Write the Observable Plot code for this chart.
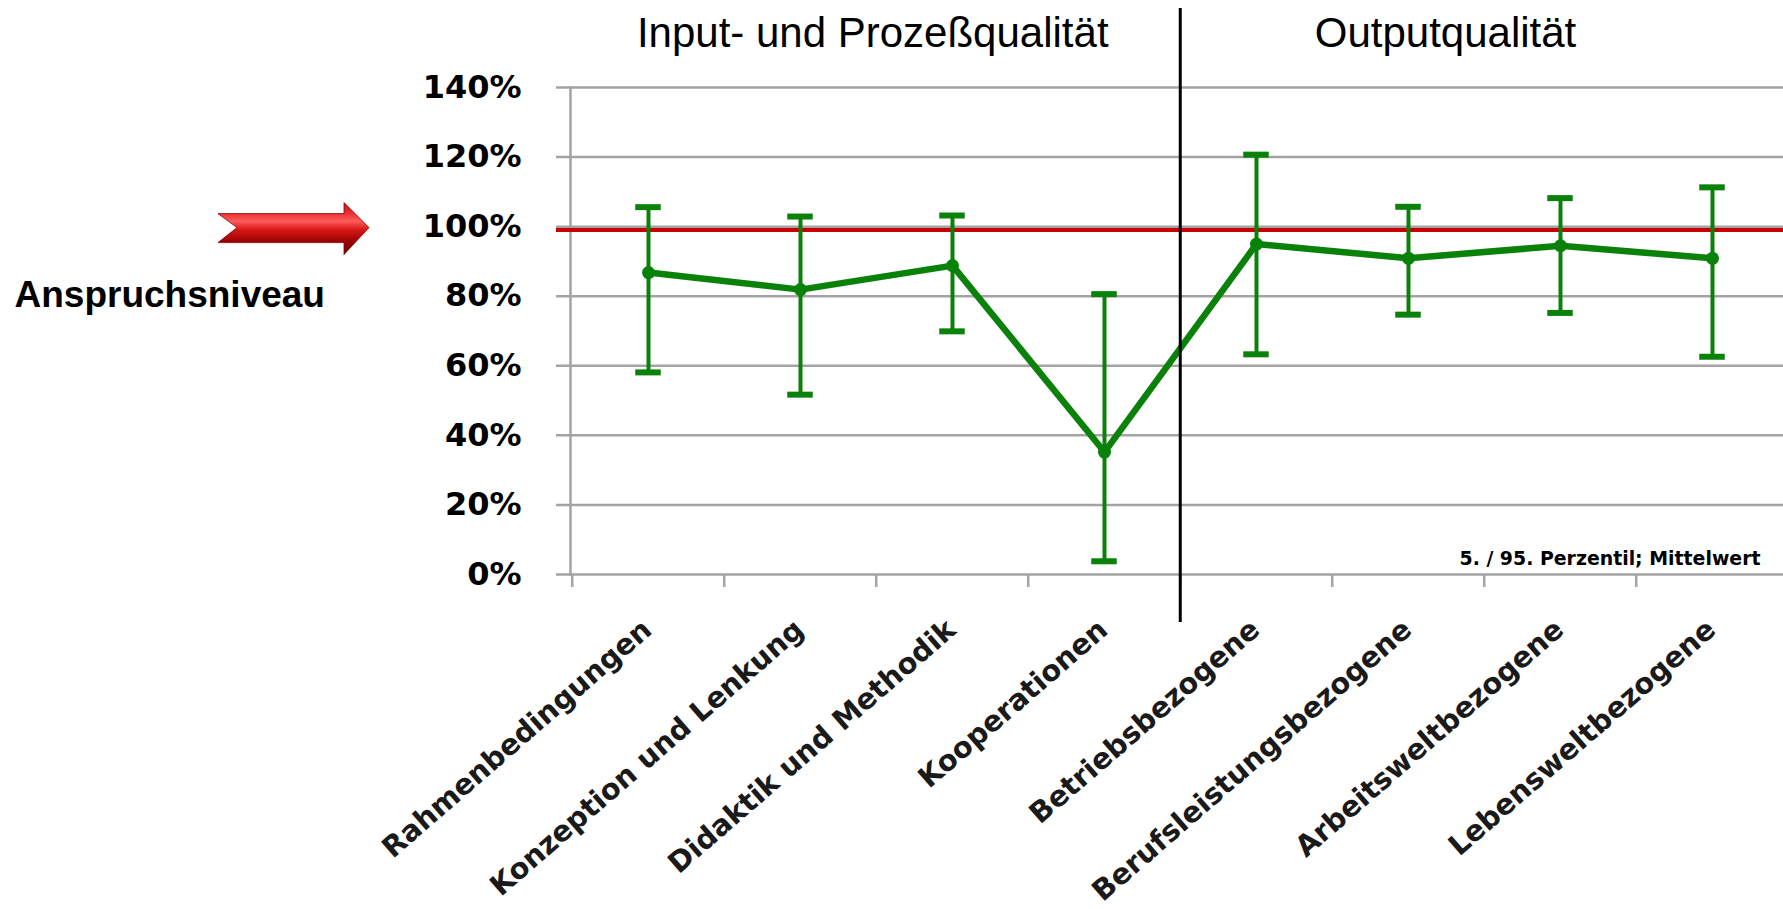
<!DOCTYPE html>
<html><head><meta charset="utf-8">
<script src="https://cdn.jsdelivr.net/npm/d3@7"></script>
<script src="https://cdn.jsdelivr.net/npm/@observablehq/plot@0.6"></script>
<style>
  html, body { margin: 0; padding: 0; background: #fff; }
  #chart svg { display: block; }
</style>
</head>
<body>
<div id="chart"></div>
<script>
// ---- data ----
const categories = [
  "Rahmenbedingungen", "Konzeption und Lenkung", "Didaktik und Methodik", "Kooperationen",
  "Betriebsbezogene", "Berufsleistungsbezogene", "Arbeitsweltbezogene", "Lebensweltbezogene"
];
const mittelwert  = [0.868, 0.819, 0.888, 0.352, 0.950, 0.909, 0.945, 0.909];
const perzentil5  = [0.581, 0.517, 0.699, 0.038, 0.633, 0.747, 0.752, 0.626];
const perzentil95 = [1.056, 1.029, 1.032, 0.806, 1.207, 1.057, 1.082, 1.113];
const yTicks = [0, 0.2, 0.4, 0.6, 0.8, 1.0, 1.2, 1.4];
const anspruchsniveau = 0.99;
const sections = ["Input- und Prozeßqualität", "Outputqualität"];
const levelLabel = "Anspruchsniveau";
const noteLabel = "5. / 95. Perzentil; Mittelwert";

const data = categories.map((c, i) => ({cat: c, mean: mittelwert[i], low: perzentil5[i], high: perzentil95[i]}));

// ---- layout / style ----
const W = 1783, H = 909;
const mL = 570, mT = 87, mB = 335;
const xRange = [570, 1790];
const bw = (xRange[1] - xRange[0]) / categories.length;
const green = "#0a820a", red = "#c80000", grid = "#a3a3a3";
const capHalf = 13;

const plot = Plot.plot({
  width: W, height: H,
  marginLeft: mL, marginRight: 0, marginTop: mT, marginBottom: mB,
  style: {fontFamily: "DejaVu Sans, sans-serif", background: "#fff"},
  x: {type: "band", domain: categories, range: xRange, padding: 0, label: null},
  y: {domain: [0, 1.4], label: null},
  marks: [
    // gridlines (with outward tick stubs)
    Plot.ruleY(yTicks, {stroke: grid, strokeWidth: 2.5, insetLeft: -14}),
    // y-axis line
    Plot.frame({anchor: "left", stroke: grid, strokeWidth: 2.5}),
    // x ticks at category boundaries
    Plot.axisX({ticks: categories, tickSize: 13, tickFormat: () => "", label: null, dx: -bw / 2, stroke: grid, strokeWidth: 2.5}),
    // y tick labels
    Plot.axisY({ticks: yTicks, tickSize: 0, tickPadding: 49, tickFormat: d3.format(".0%"), label: null,
      fontSize: 32, fontWeight: "bold", fontFamily: "DejaVu Sans", fill: "#000"}),
    // x tick labels
    Plot.axisX({ticks: categories, tickSize: 0, tickRotate: -41, tickPadding: 51, dx: -1, label: null,
      fontSize: 28.8, fontWeight: "bold", fontFamily: "DejaVu Sans", fill: "#1a1a1a"}),
    // reference level
    Plot.ruleY([anspruchsniveau], {stroke: red, strokeWidth: 4, insetLeft: -14}),
    // error bars
    Plot.ruleX(data, {x: "cat", y1: "low", y2: "high", stroke: green, strokeWidth: 4}),
    Plot.tickY(data, {x: "cat", y: "low", stroke: green, strokeWidth: 6, insetLeft: bw / 2 - capHalf, insetRight: bw / 2 - capHalf}),
    Plot.tickY(data, {x: "cat", y: "high", stroke: green, strokeWidth: 6, insetLeft: bw / 2 - capHalf, insetRight: bw / 2 - capHalf}),
    // mean line + dots
    Plot.lineY(data, {x: "cat", y: "mean", stroke: green, strokeWidth: 6.5, strokeLinejoin: "round"}),
    Plot.dot(data, {x: "cat", y: "mean", r: 6.5, fill: green}),
    // section separator
    Plot.ruleX([categories[4]], {dx: -bw / 2, stroke: "#000", strokeWidth: 3, insetTop: -79, insetBottom: -48}),
    // section titles
    Plot.text([sections[0]], {x: () => categories[1], frameAnchor: "top", dx: bw / 2 - 4, dy: -70, lineAnchor: "top",
      textAnchor: "middle", fontSize: 42, fontFamily: "Liberation Sans, Arial, sans-serif", fill: "#000"}),
    Plot.text([sections[1]], {x: () => categories[5], frameAnchor: "top", dx: 37, dy: -70, lineAnchor: "top",
      textAnchor: "middle", fontSize: 42, fontFamily: "Liberation Sans, Arial, sans-serif", fill: "#000"}),
    // level label
    Plot.text([levelLabel], {frameAnchor: "left", y: () => anspruchsniveau, dx: 14 - mL, dy: 51, lineAnchor: "top",
      textAnchor: "start", fontSize: 37, fontWeight: "bold", fontFamily: "Liberation Sans, Arial, sans-serif", fill: "#000"}),
    // note
    Plot.text([noteLabel], {frameAnchor: "bottom-right", dx: -23, dy: -22.6, lineAnchor: "top",
      textAnchor: "end", fontSize: 18.9, fontWeight: "bold", fontFamily: "DejaVu Sans", fill: "#000"})
  ]
});

// decorative red arrow pointing at the reference level
{
  const svg = d3.select(plot);
  const cy = plot.scale("y").apply(anspruchsniveau) - 2;
  const defs = svg.append("defs");
  const g = defs.append("linearGradient").attr("id", "arrowGrad").attr("x1", 0).attr("y1", 0).attr("x2", 0).attr("y2", 1);
  [[0, "#c81010"], [0.2, "#e83030"], [0.36, "#ff5c5c"], [0.52, "#d81818"], [0.75, "#980000"], [1, "#640000"]]
    .forEach(([o, c]) => g.append("stop").attr("offset", o).attr("stop-color", c));
  const x0 = 218, xn = 237, xh = 344, xt = 369;
  const pts = [[x0, cy - 14], [xh, cy - 14], [xh, cy - 25], [xt, cy], [xh, cy + 27], [xh, cy + 15], [x0, cy + 15], [xn, cy]];
  svg.append("path")
    .attr("d", "M" + pts.map(p => p.join(",")).join("L") + "Z")
    .attr("fill", "url(#arrowGrad)")
    .attr("stroke", "#8a0000").attr("stroke-width", 0.8);
}

document.getElementById("chart").appendChild(plot);
</script>
</body></html>
